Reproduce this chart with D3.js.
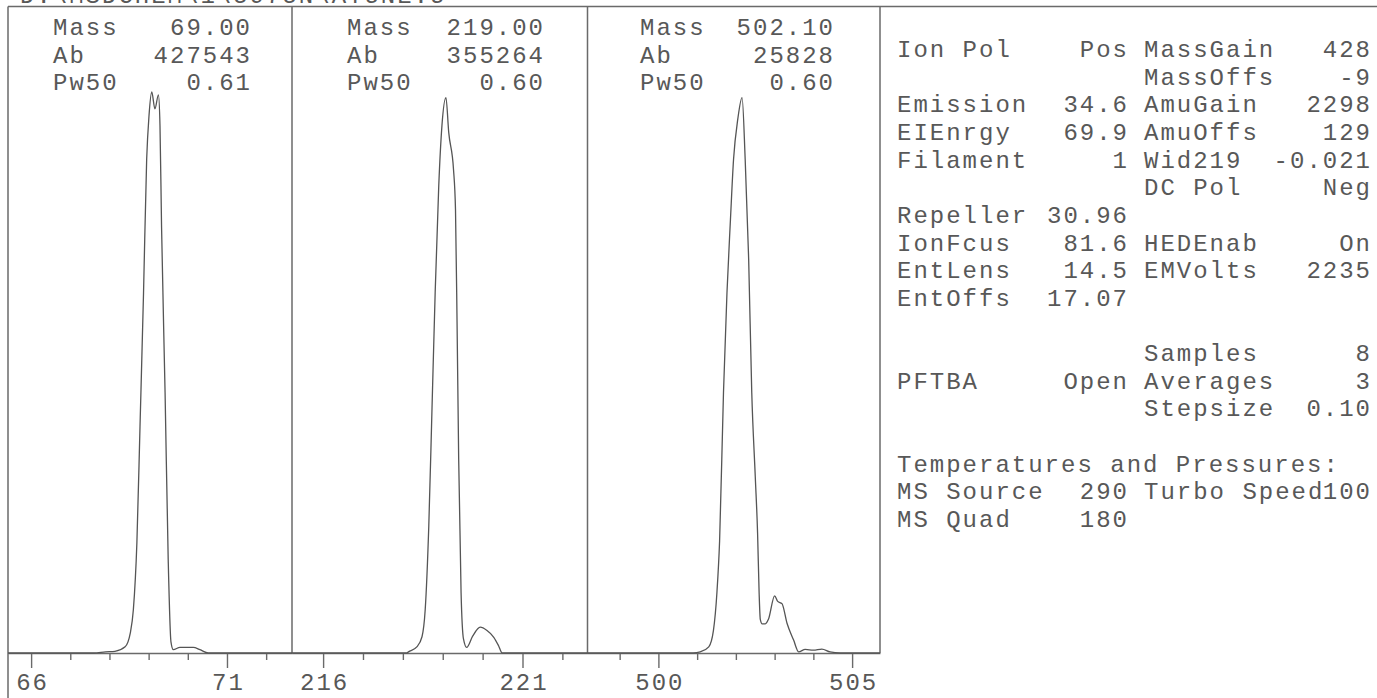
<!DOCTYPE html>
<html>
<head>
<meta charset="utf-8">
<script src="https://cdn.jsdelivr.net/npm/d3@7"></script>
<style>
  html, body { margin: 0; padding: 0; background: #fff; }
  svg { display: block; }
  text { font-family: "Liberation Mono", "DejaVu Sans Mono", monospace; font-size: 24px; letter-spacing: 2px; fill: #585858; white-space: pre; }
</style>
</head>
<body>
<svg id="chart" width="1377" height="698"></svg>
<script>
"use strict";

// scanned tune report header, cut at the top edge
let headerText = "D:\\MSDCHEM\\1\\5975N\\ATUNE.U";

// one entry per panel
let panelMass = ["69.00", "219.00", "502.10"];
let panelAb = ["427543", "355264", "25828"];
let panelPw50 = ["0.61", "0.60", "0.60"];
let panelDomain = [[65.41, 72.66], [215.22, 222.63], [498.17, 505.72]];
let panelTickLabels = [[66, 71], [216, 221], [500, 505]];

// profile traces: [m/z, % of panel max]
let trace69 = [
  [65.41, 0], [67.6, 0], [67.9, 0.2], [68.14, 0.3], [68.4, 1.1], [68.53, 3.5], [68.61, 7.7],
  [68.7, 19.6], [68.78, 40.4], [68.87, 64.2], [68.95, 88], [69.01, 95.8], [69.08, 100],
  [69.16, 97], [69.25, 99.5], [69.29, 94], [69.33, 76], [69.42, 46.4], [69.5, 16.6],
  [69.57, 2.0], [69.63, 0.6], [69.8, 1.0], [70.14, 1.0], [70.31, 0.6], [70.52, 0], [72.66, 0]
];
let trace219 = [
  [215.22, 0], [218.1, 0], [218.14, 0.2], [218.35, 1.1], [218.48, 2.9], [218.56, 7.7],
  [218.65, 22.6], [218.73, 43.4], [218.81, 64.2], [218.9, 83.3], [218.98, 94], [219.08, 99],
  [219.15, 92.8], [219.27, 86.2], [219.32, 79], [219.36, 58.3], [219.4, 34.5], [219.46, 10.7],
  [219.52, 2.5], [219.6, 1.0], [219.75, 3.0], [219.94, 4.6], [220.11, 4.0], [220.28, 2.8],
  [220.4, 1.3], [220.49, 0], [222.63, 0]
];
let trace502 = [
  [498.17, 0], [500.9, 0], [501.08, 0.2], [501.3, 1.1], [501.42, 4.0], [501.51, 10.7],
  [501.58, 20], [501.68, 46.4], [501.77, 64.2], [501.86, 77.3], [501.94, 88], [502.05, 95.2],
  [502.16, 99], [502.24, 88], [502.33, 70.2], [502.41, 46.4], [502.5, 31.5], [502.56, 21.4],
  [502.6, 10.7], [502.63, 6.0], [502.68, 5.2], [502.76, 5.2], [502.84, 6.0], [503.0, 10.2],
  [503.08, 9.2], [503.19, 8.8], [503.32, 5.3], [503.49, 2.3], [503.62, 0.2], [503.79, 0.65],
  [504.0, 0.5], [504.22, 0.7], [504.43, 0.2], [504.69, 0], [505.72, 0]
];
let traces = [trace69, trace219, trace502];

// right-hand parameter block, one item per printed line
let paramLabel = ["Ion Pol", "", "Emission", "EIEnrgy", "Filament", "", "Repeller", "IonFcus",
  "EntLens", "EntOffs", "", "", "PFTBA", "", "", "Temperatures and Pressures:", "MS Source", "MS Quad"];
let paramValue = ["Pos", "", "34.6", "69.9", "1", "", "30.96", "81.6",
  "14.5", "17.07", "", "", "Open", "", "", "", "290", "180"];
let paramLabel2 = ["MassGain", "MassOffs", "AmuGain", "AmuOffs", "Wid219", "DC Pol", "", "HEDEnab",
  "EMVolts", "", "", "Samples", "Averages", "Stepsize", "", "", "Turbo Speed", ""];
let paramValue2 = ["428", "-9", "2298", "129", "-0.021", "Neg", "", "On",
  "2235", "", "", "8", "3", "0.10", "", "", "100", ""];

let svg = d3.select("#chart");
let ink = "#6a6a6a";
let ls = 2; // trailing letter-spacing, offset for end-anchored text
let panelX = [[8, 292], [292, 587.5], [587.5, 880]];
let frameTop = 6.5, base = 653;
let textLeft = [53, 347, 640];
let textRight = [250, 543, 833];
let lineGap = 27.65;

svg.append("text").attr("x", 20).attr("y", 3).text(headerText);

let y = d3.scaleLinear().domain([0, 100]).range([base, 92]);

// frame
let frame = svg.append("g").attr("stroke", ink).attr("stroke-width", 1.5).attr("fill", "none");
frame.append("line").attr("x1", 8).attr("x2", 1377).attr("y1", frameTop).attr("y2", frameTop);
frame.append("line").attr("x1", 8).attr("x2", 8).attr("y1", frameTop).attr("y2", 698);
panelX.forEach((p) => {
  frame.append("line").attr("x1", p[1]).attr("x2", p[1]).attr("y1", frameTop).attr("y2", base);
});

panelX.forEach((p, i) => {
  let x = d3.scaleLinear().domain(panelDomain[i]).range(p);
  let g = svg.append("g");

  let lo = Math.ceil(panelDomain[i][0]), hi = Math.floor(panelDomain[i][1]);
  let axis = d3.axisBottom(x)
    .tickValues(d3.range(lo, hi + 1))
    .tickSize(7)
    .tickSizeOuter(0)
    .tickFormat((d) => (panelTickLabels[i].includes(d) ? d : ""));
  let ax = g.append("g").attr("transform", "translate(0," + base + ")").call(axis);
  ax.attr("font-family", null).attr("font-size", null);
  ax.select(".domain").attr("stroke", ink).attr("stroke-width", 1.5);
  ax.selectAll(".tick line").attr("stroke", ink).attr("stroke-width", 1.4)
    .attr("y2", (d) => (panelTickLabels[i].includes(d) ? 15 : 7));
  ax.selectAll(".tick text")
    .attr("x", ls / 2)
    .attr("y", 37).attr("dy", null)
    .attr("fill", "#585858");

  let line = d3.line()
    .x((d) => x(d[0]))
    .y((d) => y(d[1]))
    .curve(d3.curveMonotoneX);
  g.append("path")
    .datum(traces[i])
    .attr("d", line)
    .attr("fill", "none")
    .attr("stroke", "#555")
    .attr("stroke-width", 1.3);

  let rows = [["Mass", panelMass[i]], ["Ab", panelAb[i]], ["Pw50", panelPw50[i]]];
  rows.forEach((r, k) => {
    let ty = 35 + k * lineGap;
    g.append("text").attr("x", textLeft[i]).attr("y", ty).text(r[0]);
    g.append("text").attr("x", textRight[i] + ls).attr("y", ty).attr("text-anchor", "end").text(r[1]);
  });
});

// parameter block
let pg = svg.append("g");
let colL = 897, colV = 1127, colL2 = 1144, colV2 = 1370;
paramLabel.forEach((lab, k) => {
  let ty = 57 + k * lineGap;
  if (lab) pg.append("text").attr("x", colL).attr("y", ty).text(lab);
  if (paramValue[k]) pg.append("text").attr("x", colV + ls).attr("y", ty).attr("text-anchor", "end").text(paramValue[k]);
  if (paramLabel2[k]) pg.append("text").attr("x", colL2).attr("y", ty).text(paramLabel2[k]);
  if (paramValue2[k]) pg.append("text").attr("x", colV2 + ls).attr("y", ty).attr("text-anchor", "end").text(paramValue2[k]);
});
</script>
</body>
</html>
